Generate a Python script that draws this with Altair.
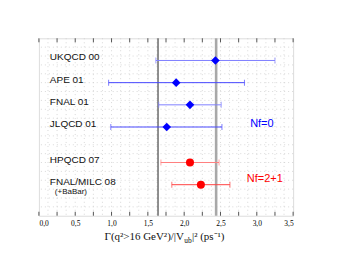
import altair as alt
import pandas as pd
import numpy as np

labels = ["UKQCD 00", "APE 01", "FNAL 01", "JLQCD 01", "HPQCD 07", "FNAL/MILC 08"]
rows = [1, 2, 3, 4, 5.6, 6.6]
centers = [2.43, 1.89, 2.08, 1.76, 2.08, 2.23]
lows = [1.61, 0.96, 1.65, 0.99, 1.68, 1.83]
highs = [3.25, 2.83, 2.51, 2.52, 2.48, 2.63]
groups = ["Nf=0", "Nf=0", "Nf=0", "Nf=0", "Nf=2+1", "Nf=2+1"]
bar_colors = ["#7f7fff", "#4848ff", "#7f7fff", "#4848ff", "#ff8080", "#ff4040"]
ref_lines = [1.64, 2.44]
tick_vals = [float(v) for v in np.arange(0, 3.51, 0.25)]
label_vals = [float(v) for v in np.arange(0, 3.51, 0.5)]

df = pd.DataFrame({"label": labels, "row": rows, "c": centers, "lo": lows,
                   "hi": highs, "group": groups, "bc": bar_colors})
ends = pd.DataFrame({"row": rows * 2, "v": lows + highs, "bc": bar_colors * 2})

xs = alt.Scale(domain=[0, 3.5], nice=False, zero=False)
ys = alt.Scale(domain=[0, 8], reverse=True, nice=False, zero=False)
xaxis = alt.Axis(values=label_vals, title=None,
                 labelExpr="replace(format(datum.value, '.1f'), '.', ',')",
                 ticks=False, labelFont="Liberation Serif",
                 labelFontSize=7.5, labelColor="#000000", labelPadding=4,
                 domain=False, grid=False, orient="bottom", labelOverlap=False)
yaxis = None

W, H = 255, 178


def X(f):
    return alt.X(f, scale=xs, axis=xaxis)


def Y(f):
    return alt.Y(f, scale=ys, axis=yaxis)


base = alt.Chart(df)

grid_x = alt.Chart(pd.DataFrame({"v": [float(v) for v in np.arange(0.125, 3.5, 0.125)]})).mark_rule(
    color="#c8c8c8", strokeDash=[1, 3], strokeWidth=0.7
).encode(x=X("v:Q"))
grid_y = alt.Chart(pd.DataFrame({"r": [float(v) for v in np.arange(0.4, 8, 0.4)]})).mark_rule(
    color="#c8c8c8", strokeDash=[1, 3], strokeWidth=0.7
).encode(y=Y("r:Q"))

vlines = alt.Chart(pd.DataFrame({"v": ref_lines, "w": [1.0, 2.6], "col": ["#222222", "#a8a8a8"]})).mark_rule().encode(
    x=X("v:Q"),
    strokeWidth=alt.StrokeWidth("w:Q", scale=None),
    color=alt.Color("col:N", scale=None),
)

tdf = pd.DataFrame({"v": tick_vals})
top_ticks = alt.Chart(tdf).mark_rule(color="#555", strokeWidth=1).encode(
    x=X("v:Q"), y=alt.value(0), y2=alt.value(4))
bot_ticks = alt.Chart(tdf).mark_rule(color="#555", strokeWidth=1).encode(
    x=X("v:Q"), y=alt.value(H), y2=alt.value(H - 4))

bars = base.mark_rule(strokeWidth=1).encode(
    x=X("lo:Q"), x2="hi:Q",
    y=Y("row:Q"),
    color=alt.Color("bc:N", scale=None),
)
caps = alt.Chart(ends).mark_tick(thickness=1, size=6, orient="vertical").encode(
    x=X("v:Q"), y=Y("row:Q"),
    color=alt.Color("bc:N", scale=None),
)
diam = base.transform_filter("datum.group == 'Nf=0'").mark_point(
    shape="diamond", filled=True, size=75, color="#0000ff", opacity=1
).encode(x=X("c:Q"), y=Y("row:Q"))
circ = base.transform_filter("datum.group == 'Nf=2+1'").mark_point(
    shape="circle", filled=True, size=65, color="#ff0000", opacity=1
).encode(x=X("c:Q"), y=Y("row:Q"))

names = base.mark_text(align="left", baseline="middle", dy=-3, fontSize=10,
                       font="Liberation Sans", color="#111").encode(
    x=alt.value(11), y=Y("row:Q"), text="label:N")
babar = alt.Chart(pd.DataFrame({"row": [rows[5]], "t": ["(+BaBar)"]})).mark_text(
    align="left", baseline="middle", dy=7, fontSize=8, font="Liberation Sans", color="#111"
).encode(x=alt.value(16), y=Y("row:Q"), text="t:N")

grp = pd.DataFrame({"t": ["Nf=0", "Nf=2+1"], "x": [3.07, 3.11], "r": [3.87, 6.34],
                    "col": ["#0000ff", "#ff0000"]})
grp_text = alt.Chart(grp).mark_text(fontSize=11, font="Liberation Sans", baseline="middle").encode(
    x=X("x:Q"), y=Y("r:Q"), text="t:N",
    color=alt.Color("col:N", scale=None))

tstyle = dict(font="Liberation Serif", color="#111", baseline="alphabetic")
t1 = alt.Chart(pd.DataFrame({"t": ["Γ(q²>16 GeV²)/|V"]})).mark_text(align="right", fontSize=11, **tstyle).encode(
    x=alt.value(145.5), y=alt.value(H + 24), text="t:N")
t2 = alt.Chart(pd.DataFrame({"t": ["ub"]})).mark_text(align="left", fontSize=7.5, **tstyle).encode(
    x=alt.value(145.8), y=alt.value(H + 27), text="t:N")
t3 = alt.Chart(pd.DataFrame({"t": ["|² (ps⁻¹)"]})).mark_text(align="left", fontSize=11, **tstyle).encode(
    x=alt.value(153.5), y=alt.value(H + 24), text="t:N")

chart = alt.layer(grid_x, grid_y, vlines, top_ticks, bot_ticks, bars, caps, diam, circ,
                  names, babar, grp_text, t1, t2, t3).properties(
    width=W, height=H,
    autosize=alt.AutoSizeParams(type="none"),
    padding={"left": 31, "top": 30, "right": 40, "bottom": 40},
).configure_view(fill="#eeeeee", stroke="#666666", strokeWidth=1.2).configure(background="white")

chart.save("out.html", embed_options={"renderer": "svg", "actions": False})
